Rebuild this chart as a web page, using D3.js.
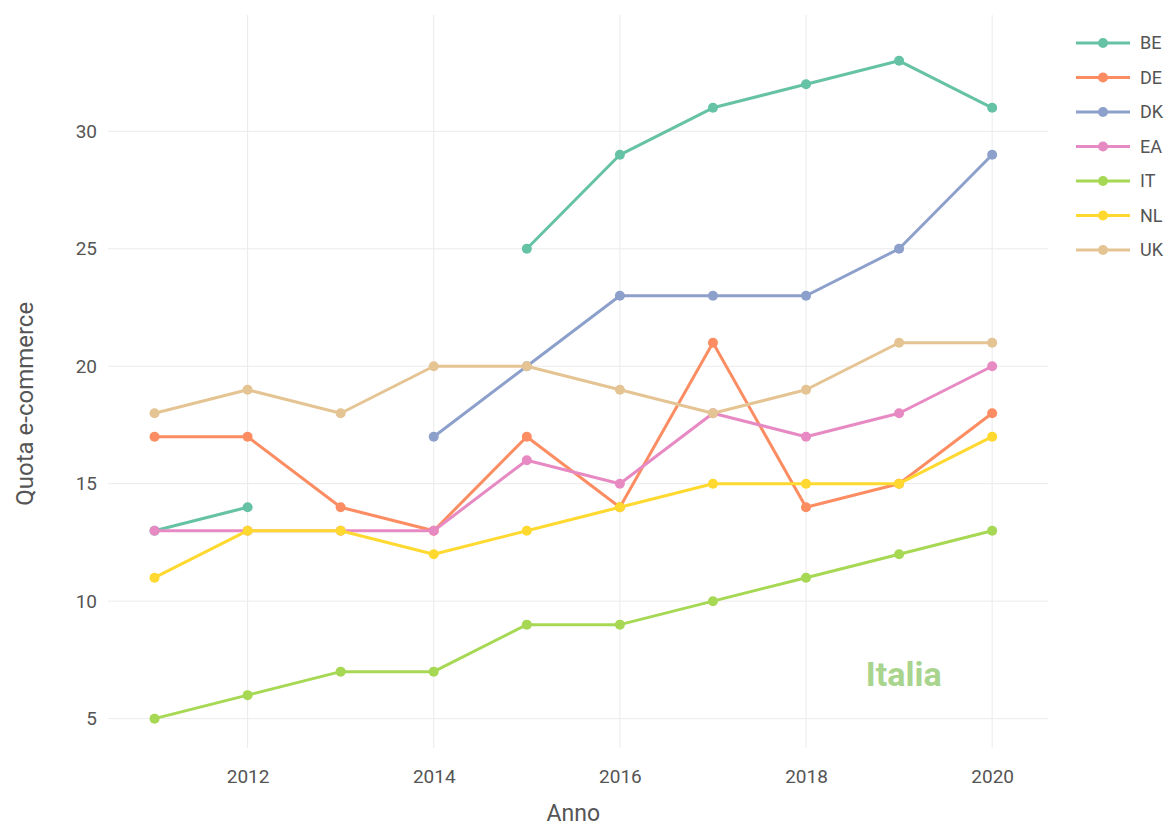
<!DOCTYPE html>
<html>
<head>
<meta charset="utf-8">
<script src="https://cdn.jsdelivr.net/npm/d3@7"></script>
<style>
  body { margin: 0; background: #fff; }
  text { font-family: Roboto, "Noto Sans", sans-serif; }
</style>
</head>
<body>
<div class="chart"></div>
<script>
var svgWidth = 1169;
var svgHeight = 828;

var margin = { top: 15, right: 121, bottom: 80, left: 108 };
var width = svgWidth - margin.left - margin.right;
var height = svgHeight - margin.top - margin.bottom;

// data
var years = [2011, 2012, 2013, 2014, 2015, 2016, 2017, 2018, 2019, 2020];
var countries = ["BE", "DE", "DK", "EA", "IT", "NL", "UK"];
var colors = ["#66c2a5", "#fc8d62", "#8da0cb", "#e78ac3", "#a6d854", "#ffd92f", "#e5c494"];
var valuesBE = [13, 14, null, null, 25, 29, 31, 32, 33, 31];
var valuesDE = [17, 17, 14, 13, 17, 14, 21, 14, 15, 18];
var valuesDK = [null, null, null, 17, 20, 23, 23, 23, 25, 29];
var valuesEA = [13, 13, 13, 13, 16, 15, 18, 17, 18, 20];
var valuesIT = [5, 6, 7, 7, 9, 9, 10, 11, 12, 13];
var valuesNL = [11, 13, 13, 12, 13, 14, 15, 15, 15, 17];
var valuesUK = [18, 19, 18, 20, 20, 19, 18, 19, 21, 21];
var xTicks = [2012, 2014, 2016, 2018, 2020];
var yTicks = [5, 10, 15, 20, 25, 30];

var allValues = [valuesBE, valuesDE, valuesDK, valuesEA, valuesIT, valuesNL, valuesUK];

var svg = d3.select(".chart")
  .append("svg")
  .attr("width", svgWidth)
  .attr("height", svgHeight);

var chartGroup = svg.append("g")
  .attr("transform", `translate(${margin.left}, ${margin.top})`);

var xScale = d3.scaleLinear()
  .domain([2010.5, 2020.6])
  .range([0, width]);

var yScale = d3.scaleLinear()
  .domain([3.75, 34.95])
  .range([height, 0]);

// grid
chartGroup.append("g")
  .selectAll("line")
  .data(yTicks)
  .enter()
  .append("line")
  .attr("x1", 0)
  .attr("x2", width)
  .attr("y1", d => yScale(d))
  .attr("y2", d => yScale(d))
  .attr("stroke", "#ebebeb")
  .attr("stroke-width", 1);

chartGroup.append("g")
  .selectAll("line")
  .data(xTicks)
  .enter()
  .append("line")
  .attr("x1", d => xScale(d))
  .attr("x2", d => xScale(d))
  .attr("y1", 0)
  .attr("y2", height)
  .attr("stroke", "#ebebeb")
  .attr("stroke-width", 1);

// axes (labels only)
var bottomAxis = d3.axisBottom(xScale).tickValues(xTicks).tickFormat(d3.format("d")).tickSize(0).tickPadding(22);
var leftAxis = d3.axisLeft(yScale).tickValues(yTicks).tickSize(0).tickPadding(11);

var gx = chartGroup.append("g")
  .attr("transform", `translate(0, ${height})`)
  .call(bottomAxis);
var gy = chartGroup.append("g")
  .call(leftAxis);

[gx, gy].forEach(function (g) {
  g.select(".domain").remove();
  g.selectAll("text")
    .attr("font-family", "Roboto, sans-serif")
    .attr("font-size", "19px")
    .attr("fill", "#555");
});

// lines and points
var line = d3.line()
  .defined(d => d.v !== null)
  .x(d => xScale(d.year))
  .y(d => yScale(d.v));

countries.forEach(function (c, i) {
  var pts = years.map((y, j) => ({ year: y, v: allValues[i][j] }));
  chartGroup.append("path")
    .datum(pts)
    .attr("d", line)
    .attr("fill", "none")
    .attr("stroke", colors[i])
    .attr("stroke-width", 3)
    .attr("stroke-linejoin", "round");
  chartGroup.selectAll(".dot" + c)
    .data(pts.filter(d => d.v !== null))
    .enter()
    .append("circle")
    .attr("cx", d => xScale(d.year))
    .attr("cy", d => yScale(d.v))
    .attr("r", 5)
    .attr("fill", colors[i]);
});

// annotation
chartGroup.append("text")
  .attr("x", xScale(2019.05))
  .attr("y", yScale(6.9))
  .attr("dy", "0.35em")
  .attr("text-anchor", "middle")
  .attr("font-family", "'Open Sans', sans-serif")
  .attr("font-weight", "bold")
  .attr("font-size", "34px")
  .attr("fill", "#a8d48e")
  .text("Italia");

// axis titles
chartGroup.append("text")
  .attr("transform", "rotate(-90)")
  .attr("x", -yScale(18.4))
  .attr("y", -margin.left + 33)
  .attr("text-anchor", "middle")
  .attr("font-size", "24px")
  .attr("fill", "#555")
  .text("Quota e-commerce");

chartGroup.append("text")
  .attr("x", xScale(2015.5))
  .attr("y", height + 73)
  .attr("text-anchor", "middle")
  .attr("font-size", "23px")
  .attr("fill", "#555")
  .text("Anno");

// legend
var legend = svg.append("g")
  .attr("transform", "translate(1076, 43)");

var items = legend.selectAll("g")
  .data(countries)
  .enter()
  .append("g")
  .attr("transform", (d, i) => `translate(0, ${i * 34.5})`);

items.append("line")
  .attr("x1", 0).attr("x2", 54)
  .attr("stroke", (d, i) => colors[i])
  .attr("stroke-width", 3);
items.append("circle")
  .attr("cx", 27)
  .attr("r", 5)
  .attr("fill", (d, i) => colors[i]);
items.append("text")
  .attr("x", 64)
  .attr("dy", "0.35em")
  .attr("font-size", "18px")
  .attr("fill", "#555")
  .text(d => d);
</script>
</body>
</html>
